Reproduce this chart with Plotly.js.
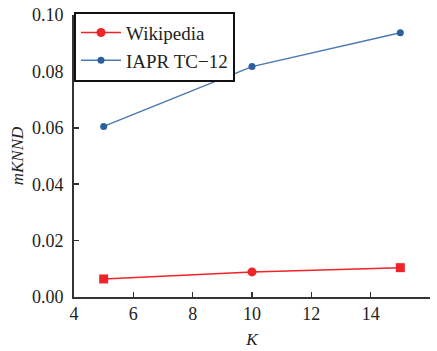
<!DOCTYPE html>
<html><head><meta charset="utf-8">
<script src="https://cdn.plot.ly/plotly-3.0.1.min.js"></script>
<style>html,body{margin:0;padding:0;background:#fff}#chart{width:437px;height:351px}</style>
</head><body><div id="chart"></div>
<script>
const kValues = [5, 10, 15];
const wikipedia = [0.0064, 0.0089, 0.0104];
const iapr = [0.0605, 0.0817, 0.0937];
const seriesNames = ["Wikipedia", "IAPR TC\u221212"];
const xTicks = [4, 6, 8, 10, 12, 14, 16];
const yTicks = [0, 0.02, 0.04, 0.06, 0.08, 0.10];

const red = "#f0232a", blueLine = "#4a78b2", blueMark = "#2c5f9e";
const traces = [
  {x: kValues, y: wikipedia, name: seriesNames[0], mode: "lines+markers", showlegend: false,
   line: {color: red, width: 1.5}, marker: {color: red, size: 9, symbol: ["square", "circle", "square"]}},
  {x: kValues, y: iapr, name: seriesNames[1], mode: "lines+markers", showlegend: false,
   line: {color: blueLine, width: 1.5}, marker: {color: blueMark, size: 7, symbol: "circle"}},
  {x: [null], y: [null], name: seriesNames[0], mode: "lines+markers",
   line: {color: red, width: 1.5}, marker: {color: red, size: 9, symbol: "circle"}},
  {x: [null], y: [null], name: seriesNames[1], mode: "lines+markers",
   line: {color: blueLine, width: 1.5}, marker: {color: blueMark, size: 7, symbol: "circle"}}
];

const layout = {
  width: 437, height: 351,
  margin: {l: 74, r: 7, t: 15, b: 54},
  paper_bgcolor: "#fff", plot_bgcolor: "#fff",
  font: {family: "Liberation Serif, Times New Roman, serif", size: 18, color: "#222"},
  xaxis: {range: [4, 16], tickvals: xTicks, ticktext: xTicks.map(String), ticks: "inside", ticklen: 5, tickwidth: 1.5,
    tickcolor: "#333", showline: true, linecolor: "#333", linewidth: 1.8, showgrid: false, zeroline: false,
    tickfont: {size: 18},
    title: {text: "<i>K</i>", font: {size: 17}, standoff: 10}},
  yaxis: {range: [0, 0.10], tickvals: yTicks, ticktext: yTicks.map(v => v.toFixed(2)), ticks: "inside", ticklen: 5, tickwidth: 1.5,
    tickcolor: "#333", showline: true, linecolor: "#333", linewidth: 1.8, showgrid: false, zeroline: false,
    tickfont: {size: 18}, ticklabelstandoff: 5,
    title: {text: "<i>mKNND</i>", font: {size: 17}, standoff: 4}},
  legend: {x: 0, y: 1.012, xanchor: "left", yanchor: "top", bordercolor: "#111", borderwidth: 2, bgcolor: "#fff",
    font: {size: 19}, tracegroupgap: 0, itemwidth: 40}
};
Plotly.newPlot("chart", traces, layout, {displayModeBar: false, staticPlot: true});
</script></body></html>
